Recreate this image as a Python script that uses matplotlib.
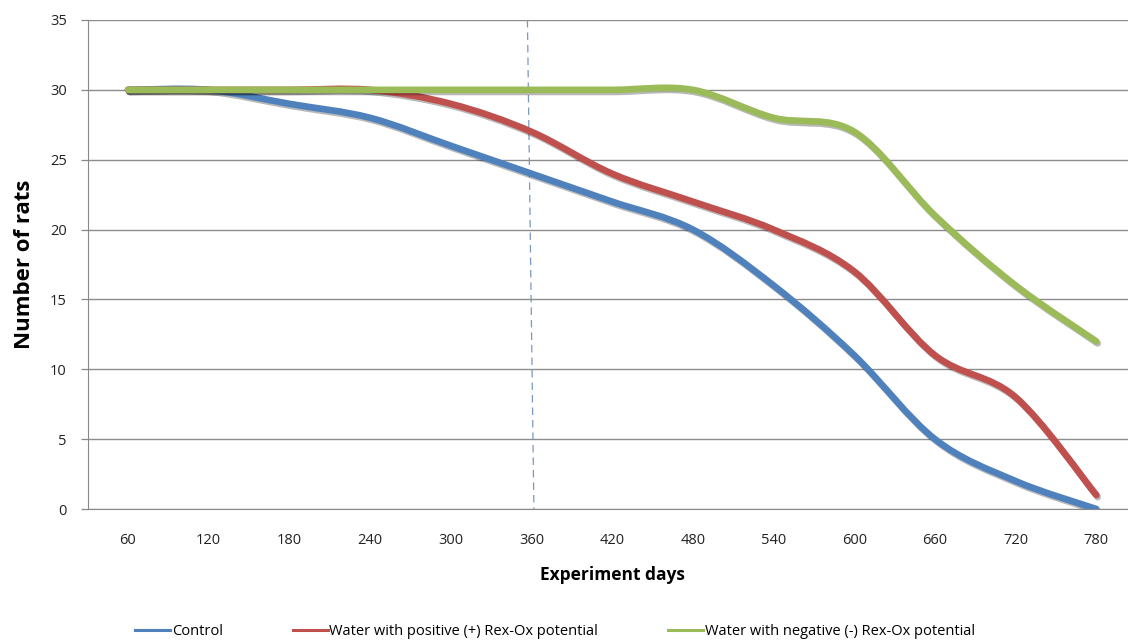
import matplotlib
matplotlib.use("Agg")
import matplotlib.pyplot as plt
import numpy as np
from matplotlib.path import Path
from matplotlib.patches import PathPatch
from matplotlib.lines import Line2D
import matplotlib.patheffects as pe

plt.rcParams['font.family'] = ['Open Sans', 'Liberation Sans', 'DejaVu Sans']

days = [60, 120, 180, 240, 300, 360, 420, 480, 540, 600, 660, 720, 780]
control = [30, 30, 29, 28, 26, 24, 22, 20, 16, 11, 5, 2, 0]
positive = [30, 30, 30, 30, 29, 27, 24, 22, 20, 17, 11, 8, 1]
negative = [30, 30, 30, 30, 30, 30, 30, 30, 28, 27, 21, 16, 12]

series = [
    ("Control", control, "#4F81BD"),
    ("Water with positive (+) Rex-Ox potential", positive, "#C0504D"),
    ("Water with negative (-) Rex-Ox potential", negative, "#9BBB59"),
]
y_ticks = [0, 5, 10, 15, 20, 25, 30, 35]


def smooth_path(xs, ys):
    pts = np.column_stack([xs, ys]).astype(float)
    n = len(pts)
    verts = [pts[0]]
    codes = [Path.MOVETO]
    for i in range(n - 1):
        p0 = pts[i - 1] if i > 0 else pts[i]
        p1 = pts[i]
        p2 = pts[i + 1]
        p3 = pts[i + 2] if i + 2 < n else pts[i + 1]
        c1 = p1 + (p2 - p0) / 6.0
        c2 = p2 - (p3 - p1) / 6.0
        verts += [c1, c2, p2]
        codes += [Path.CURVE4] * 3
    return Path(verts, codes)


fig = plt.figure(figsize=(11.28, 6.41), dpi=100)
ax = fig.add_axes([0.0777, 0.2059, 0.930, 0.7629])

x = np.arange(len(days))
for name, vals, col in series:
    patch = PathPatch(smooth_path(x, vals), fill=False, edgecolor=col, lw=4.8,
                      capstyle='round', joinstyle='round', zorder=3,
                      path_effects=[pe.SimpleLineShadow(offset=(1, -1.5), shadow_color='black', alpha=0.28),
                                    pe.Normal()])
    ax.add_patch(patch)

# dashed vertical marker near day 360
ax.plot([4.95, 5.03], [35, 0], color='#7A98BE', lw=0.9, ls=(0, (6, 4)), zorder=2)

ax.set_xlim(-0.5, len(days) - 0.5)
ax.set_ylim(0, 35)
ax.set_xticks(x)
ax.set_xticklabels([str(d) for d in days], fontsize=10.5, color='#222222')
ax.set_yticks(y_ticks)
ax.set_yticklabels([str(v) for v in y_ticks], fontsize=10.5, color='#222222')
ax.tick_params(axis='x', length=0, pad=17)
ax.tick_params(axis='y', length=5, width=0.9, color='#888888', direction='out', pad=10)

ax.grid(axis='y', color='#8C8C8C', lw=1.0, zorder=1)
ax.set_axisbelow(True)
for s in ['top', 'right']:
    ax.spines[s].set_visible(False)
ax.spines['left'].set_color('#888888')
ax.spines['bottom'].set_color('#888888')

ax.set_ylabel("Number of rats", fontsize=16, fontweight='bold', labelpad=11)
ax.set_xlabel("Experiment days", fontsize=12.5, fontweight='bold', labelpad=13)

handles = [Line2D([0], [0], color=c, lw=2.2) for _, _, c in series]
labels = [n for n, _, _ in series]
fig.legend(handles, labels, loc='lower center', bbox_to_anchor=(0.492, -0.018), ncol=3,
           frameon=False, fontsize=10.5, handlelength=2.4, handletextpad=0.1,
           columnspacing=4.8)

fig.savefig("out.png", dpi=100)
